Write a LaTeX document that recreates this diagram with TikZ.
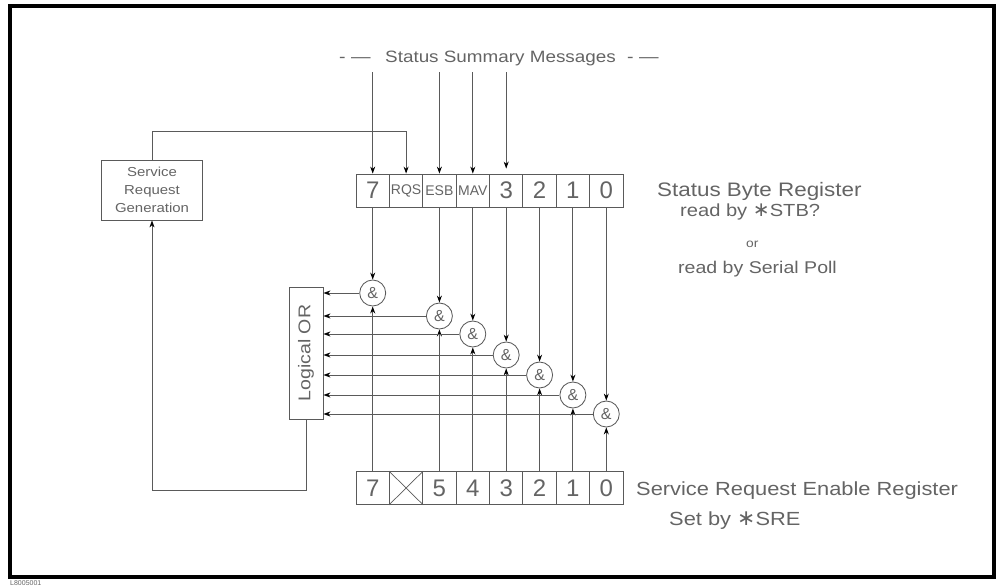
\documentclass[tikz,border=0pt]{standalone}
\usepackage{fontspec}
\newfontfamily\pf[FakeStretch=1.15]{Liberation Sans}
\newfontfamily\pfn{Liberation Sans}
\newfontfamily\dvf{DejaVu Sans}
\usetikzlibrary{arrows.meta}
\definecolor{linec}{RGB}{90,90,90}
\definecolor{txtc}{RGB}{100,100,100}
\newcommand{\myast}{{\dvf\scalebox{1.15}{∗}}}
\tikzset{
  wire/.style={draw=linec, line width=0.85pt},
  arr/.style={wire, -{Stealth[length=7pt,width=5pt,color=black]}},
  cell/.style={draw=linec, line width=0.85pt, minimum width=33.4pt, minimum height=33pt, inner sep=0pt, text=txtc, font=\pfn\fontsize{24}{24}\selectfont},
  smallcell/.style={cell, font=\pfn\fontsize{14}{14}\selectfont},
  gate/.style={circle, draw=linec, line width=0.85pt, minimum size=26pt, inner sep=0pt, text=txtc, font=\pfn\fontsize{16}{16}\selectfont},
  box/.style={draw=linec, line width=0.85pt, inner sep=0pt, text=txtc},
  lbl/.style={text=txtc, inner sep=0pt, anchor=base west}
}
\begin{document}
\begin{tikzpicture}[x=1pt,y=-1pt]
\useasboundingbox (0,0) rectangle (1000,586);
\draw[line width=3.5pt] (10,6) rectangle (994,577);

% Status byte register
\node[cell] (s7) at (372.7,190.5) {7};
\node[smallcell] (sRQS) at (406.1,190.5) {RQS};
\node[smallcell] (sESB) at (439.4,190.5) {ESB};
\node[smallcell] (sMAV) at (472.8,190.5) {MAV};
\node[cell] (s3) at (506.2,190.5) {3};
\node[cell] (s2) at (539.6,190.5) {2};
\node[cell] (s1) at (572.9,190.5) {1};
\node[cell] (s0) at (606.3,190.5) {0};

% Service request enable register
\node[cell] (e7) at (372.7,488) {7};
\node[cell] (eX) at (406.1,488) {};
\node[cell] (e5) at (439.4,488) {5};
\node[cell] (e4) at (472.8,488) {4};
\node[cell] (e3) at (506.2,488) {3};
\node[cell] (e2) at (539.6,488) {2};
\node[cell] (e1) at (572.9,488) {1};
\node[cell] (e0) at (606.3,488) {0};
\draw[wire, line width=0.7pt] (eX.north west) -- (eX.south east) (eX.north east) -- (eX.south west);

% AND gates
\node[gate] (g7) at (372.7,293) {\&};
\node[gate] (g5) at (439.4,316) {\&};
\node[gate] (g4) at (472.8,334) {\&};
\node[gate] (g3) at (506.2,355) {\&};
\node[gate] (g2) at (539.6,375) {\&};
\node[gate] (g1) at (572.9,395) {\&};
\node[gate] (g0) at (606.3,414) {\&};

% boxes
\node[box, minimum width=101pt, minimum height=60pt, align=center, font=\pf\fontsize{13}{18}\selectfont] (srg) at (152,190) {Service\\Request\\Generation};
\node[box, minimum width=34pt, minimum height=132pt, font=\pf\fontsize{17}{17}\selectfont] (orb) at (306,353) {\rotatebox{90}{Logical OR}};

% top message arrows
\coordinate (t7) at (372.7,72);
\coordinate (tE) at (439.4,72);
\coordinate (tM) at (472.8,72);
\coordinate (t3) at (506.2,72);
\draw[arr] (t7) -- (s7.north);
\draw[arr] (tE) -- (sESB.north);
\draw[arr] (tM) -- (sMAV.north);
\draw[arr] (t3) -- ([yshift=5pt]s3.north);

% service request loop
\coordinate (loopTop) at (0,131);
\coordinate (loopBot) at (0,490);
\draw[arr] (srg.north) |- (loopTop -| sRQS.north) -- (sRQS.north);
\draw[arr] (orb.south) |- (loopBot -| srg.south) -- (srg.south);

% status to gates
\draw[arr] (s7.south) -- (g7.north);
\draw[arr] (sESB.south) -- (g5.north);
\draw[arr] (sMAV.south) -- (g4.north);
\draw[arr] (s3.south) -- (g3.north);
\draw[arr] (s2.south) -- (g2.north);
\draw[arr] (s1.south) -- (g1.north);
\draw[arr] (s0.south) -- (g0.north);

% enable to gates
\draw[arr] (e7.north) -- (g7.south);
\draw[arr] (e5.north) -- (g5.south);
\draw[arr] (e4.north) -- (g4.south);
\draw[arr] (e3.north) -- (g3.south);
\draw[arr] (e2.north) -- (g2.south);
\draw[arr] (e1.north) -- (g1.south);
\draw[arr] (e0.north) -- (g0.south);

% gates to OR
\foreach \g in {g7,g5,g4,g3,g2,g1,g0}
  \draw[arr] (\g.west) -- (\g.west -| orb.east);

% labels
\node[lbl, font=\pf\fontsize{17}{17}\selectfont] (ssmL) at (339,63) {- —};
\node[lbl, font=\pf\fontsize{16.4}{16.4}\selectfont] (ssm) at (385,63) {Status Summary Messages};
\node[lbl, font=\pf\fontsize{17}{17}\selectfont] (ssmR) at (627,63) {- —};
\node[lbl, font=\pf\fontsize{19.5}{19.5}\selectfont] (sbr) at (657,196) {Status Byte Register};
\node[lbl, font=\pf\fontsize{17.5}{17.5}\selectfont] (stb) at (680,216) {read by \myast STB?};
\node[lbl, font=\pf\fontsize{12}{12}\selectfont] (or) at (746,247) {or};
\node[lbl, font=\pf\fontsize{17}{17}\selectfont] (sp) at (678,273) {read by Serial Poll};
\node[lbl, font=\pf\fontsize{19}{19}\selectfont] (sre) at (636,495) {Service Request Enable Register};
\node[lbl, font=\pf\fontsize{19}{19}\selectfont] (setby) at (669,525) {Set by \myast SRE};
\node[lbl, font=\pfn\fontsize{7}{7}\selectfont] (id) at (10,585) {L8005001};
\end{tikzpicture}
\end{document}
